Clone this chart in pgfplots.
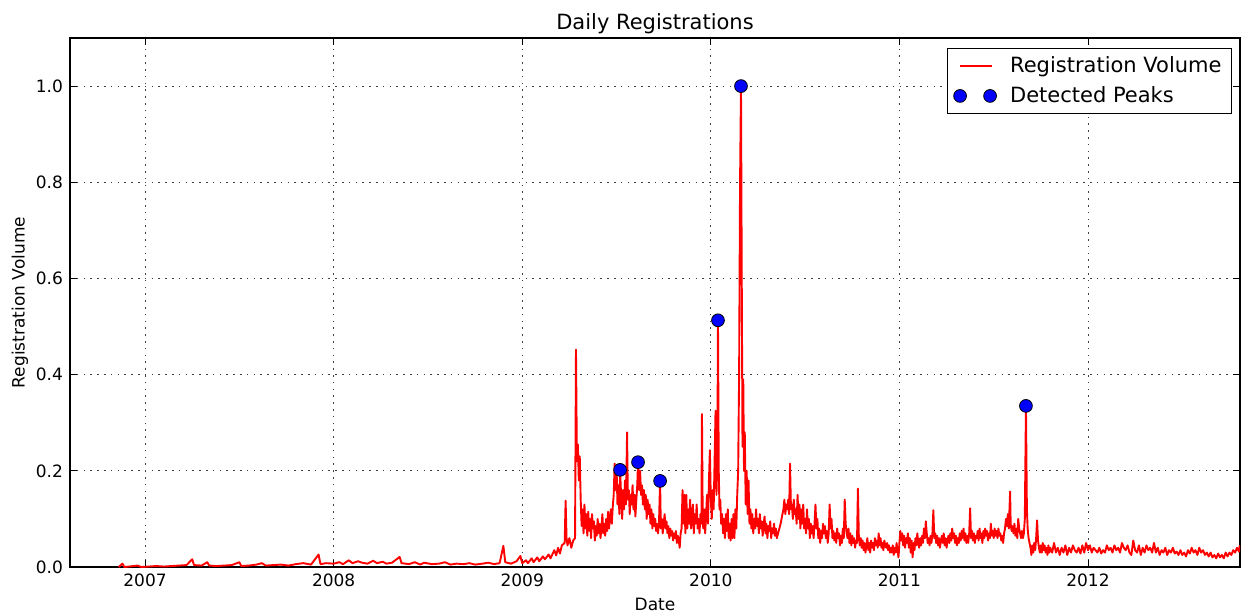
\documentclass[border=0pt]{standalone}
\usepackage{fontspec}
\setmainfont{DejaVu Sans}
\usepackage{pgfplots}
\pgfplotsset{compat=1.18}
\begin{document}
\begin{tikzpicture}
\begin{axis}[
  scale only axis,
  width=585pt, height=264.5pt,
  xmin=2006.602, xmax=2012.806,
  ymin=0, ymax=1.1,
  xtick={2007,2008,2009,2010,2011,2012},
  ytick={0,0.2,0.4,0.6,0.8,1.0},
  xticklabel style={/pgf/number format/1000 sep={}},
  yticklabel style={/pgf/number format/fixed,/pgf/number format/fixed zerofill,/pgf/number format/precision=1},
  /pgf/number format/assume math mode=true,
  tick label style={font=\fontsize{8.5}{10}\selectfont},
  label style={font=\fontsize{8.5}{10}\selectfont},
  title style={font=\fontsize{10.5}{12}\selectfont, at={(0.5,1)}, anchor=base, yshift=-1.5pt},
  title={Daily Registrations},
  xlabel={Date}, ylabel={Registration Volume},
  xlabel style={yshift=1.5pt},
  ylabel style={yshift=-3pt},
  tick align=inside,
  major tick length=3.5pt,
  tick style={black, line width=0.5pt},
  xmajorgrids, ymajorgrids,
  grid style={black!75, line width=0.5pt, dash pattern=on 0.8pt off 2.6pt},
  axis line style={line width=0.7pt},
  legend style={at={(1,1)}, anchor=north east, xshift=-4pt, yshift=-5pt, draw=black, line width=0.5pt,
    font=\fontsize{10.5}{12}\selectfont, cells={anchor=west}, inner xsep=3pt, inner ysep=2pt, row sep=1.5pt},
  legend cell align=left,
]
\addplot[red, line width=0.95pt, line join=round,
  legend image code/.code={\path[draw=none,fill=none] (-3.2pt,0pt) -- (23pt,0pt); \draw[red, line width=0.75pt] (0pt,0pt) -- (16pt,0pt);}]
coordinates {
(2006.86,0.000)(2006.88,0.007)(2006.89,0.000)(2006.94,0.002)(2006.96,0.003)(2006.98,0.000)
(2007.02,0.001)(2007.06,0.002)(2007.10,0.001)(2007.14,0.002)(2007.18,0.003)(2007.22,0.004)
(2007.25,0.016)(2007.26,0.004)(2007.30,0.003)(2007.33,0.010)(2007.34,0.003)(2007.38,0.002)
(2007.42,0.003)(2007.46,0.004)(2007.50,0.010)(2007.51,0.002)(2007.55,0.003)(2007.59,0.005)
(2007.62,0.008)(2007.64,0.003)(2007.68,0.004)(2007.72,0.005)(2007.76,0.003)(2007.80,0.006)
(2007.84,0.008)(2007.88,0.005)(2007.92,0.026)(2007.93,0.006)(2007.96,0.008)(2008.00,0.007)
(2008.03,0.010)(2008.05,0.006)(2008.08,0.014)(2008.10,0.008)(2008.13,0.012)(2008.15,0.009)
(2008.18,0.007)(2008.21,0.013)(2008.23,0.008)(2008.26,0.011)(2008.28,0.007)(2008.31,0.009)
(2008.35,0.021)(2008.36,0.008)(2008.40,0.006)(2008.43,0.010)(2008.46,0.005)(2008.48,0.009)
(2008.52,0.006)(2008.56,0.007)(2008.59,0.010)(2008.62,0.005)(2008.65,0.007)(2008.69,0.006)
(2008.72,0.008)(2008.75,0.005)(2008.79,0.007)(2008.82,0.009)(2008.85,0.006)(2008.88,0.008)
(2008.90,0.044)(2008.91,0.010)(2008.94,0.007)(2008.97,0.012)(2008.99,0.023)(2009.00,0.008)
(2009.02,0.014)(2009.03,0.008)(2009.05,0.018)(2009.06,0.010)(2009.08,0.020)(2009.09,0.012)
(2009.11,0.022)(2009.12,0.016)(2009.14,0.026)(2009.15,0.018)(2009.17,0.035)(2009.18,0.024)
(2009.19,0.040)(2009.20,0.028)(2009.21,0.045)(2009.225,0.050)(2009.23,0.138)(2009.235,0.060)
(2009.24,0.045)(2009.25,0.060)(2009.26,0.040)(2009.27,0.055)(2009.28,0.060)(2009.285,0.452)
(2009.29,0.220)(2009.295,0.255)(2009.30,0.180)(2009.305,0.230)(2009.31,0.140)(2009.315,0.085)
(2009.32,0.120)(2009.325,0.070)(2009.33,0.130)(2009.335,0.080)(2009.34,0.110)(2009.345,0.065)
(2009.35,0.115)(2009.355,0.075)(2009.36,0.100)(2009.365,0.060)(2009.37,0.110)(2009.375,0.080)
(2009.38,0.095)(2009.385,0.055)(2009.39,0.085)(2009.395,0.065)(2009.40,0.100)(2009.405,0.070)
(2009.41,0.090)(2009.415,0.060)(2009.42,0.080)(2009.425,0.110)(2009.43,0.070)(2009.435,0.090)
(2009.44,0.065)(2009.445,0.100)(2009.45,0.075)(2009.455,0.115)(2009.46,0.080)(2009.47,0.120)
(2009.475,0.090)(2009.48,0.125)(2009.485,0.150)(2009.49,0.215)(2009.495,0.160)(2009.50,0.210)
(2009.505,0.130)(2009.51,0.170)(2009.515,0.110)(2009.519,0.202)(2009.525,0.140)(2009.53,0.100)
(2009.535,0.160)(2009.54,0.120)(2009.545,0.180)(2009.55,0.130)(2009.556,0.280)(2009.56,0.140)
(2009.565,0.160)(2009.57,0.110)(2009.575,0.150)(2009.58,0.130)(2009.585,0.170)(2009.59,0.120)
(2009.595,0.150)(2009.60,0.105)(2009.605,0.140)(2009.61,0.170)(2009.614,0.218)(2009.62,0.160)
(2009.625,0.200)(2009.63,0.150)(2009.635,0.170)(2009.64,0.130)(2009.645,0.160)(2009.65,0.120)
(2009.655,0.150)(2009.66,0.100)(2009.665,0.140)(2009.67,0.110)(2009.675,0.130)(2009.68,0.090)
(2009.685,0.120)(2009.69,0.080)(2009.695,0.110)(2009.70,0.085)(2009.705,0.100)(2009.71,0.075)
(2009.715,0.090)(2009.72,0.070)(2009.725,0.090)(2009.731,0.179)(2009.735,0.080)(2009.74,0.100)
(2009.745,0.070)(2009.75,0.090)(2009.755,0.110)(2009.76,0.080)(2009.765,0.095)(2009.77,0.070)
(2009.775,0.085)(2009.78,0.060)(2009.785,0.080)(2009.79,0.065)(2009.795,0.075)(2009.80,0.055)
(2009.805,0.070)(2009.81,0.060)(2009.815,0.075)(2009.82,0.050)(2009.825,0.065)(2009.83,0.055)
(2009.835,0.040)(2009.84,0.070)(2009.845,0.080)(2009.85,0.160)(2009.855,0.090)(2009.86,0.150)
(2009.865,0.070)(2009.87,0.150)(2009.875,0.080)(2009.88,0.120)(2009.885,0.090)(2009.89,0.140)
(2009.895,0.080)(2009.90,0.100)(2009.905,0.130)(2009.91,0.070)(2009.915,0.110)(2009.92,0.090)
(2009.925,0.130)(2009.93,0.080)(2009.935,0.100)(2009.94,0.070)(2009.945,0.110)(2009.95,0.090)
(2009.953,0.318)(2009.957,0.100)(2009.96,0.080)(2009.965,0.120)(2009.97,0.070)(2009.975,0.110)
(2009.98,0.150)(2009.985,0.090)(2009.99,0.180)(2009.995,0.243)(2010.00,0.140)(2010.005,0.100)
(2010.01,0.160)(2010.015,0.120)(2010.02,0.220)(2010.025,0.325)(2010.03,0.150)(2010.035,0.250)
(2010.038,0.513)(2010.042,0.200)(2010.046,0.120)(2010.05,0.140)(2010.055,0.090)(2010.06,0.110)
(2010.065,0.070)(2010.07,0.100)(2010.075,0.060)(2010.08,0.110)(2010.085,0.075)(2010.09,0.120)
(2010.095,0.060)(2010.10,0.090)(2010.105,0.055)(2010.11,0.100)(2010.115,0.060)(2010.12,0.110)
(2010.125,0.060)(2010.13,0.120)(2010.135,0.080)(2010.14,0.150)(2010.145,0.200)(2010.15,0.400)
(2010.155,0.800)(2010.160,1.000)(2010.164,0.600)(2010.168,0.250)(2010.172,0.390)(2010.176,0.200)
(2010.18,0.280)(2010.185,0.130)(2010.19,0.200)(2010.195,0.110)(2010.20,0.180)(2010.205,0.090)
(2010.21,0.120)(2010.215,0.080)(2010.22,0.110)(2010.225,0.070)(2010.23,0.100)(2010.235,0.080)
(2010.24,0.120)(2010.245,0.085)(2010.25,0.100)(2010.255,0.070)(2010.26,0.110)(2010.265,0.080)
(2010.27,0.095)(2010.275,0.065)(2010.28,0.090)(2010.285,0.105)(2010.29,0.070)(2010.295,0.090)
(2010.30,0.060)(2010.305,0.085)(2010.31,0.075)(2010.315,0.095)(2010.32,0.060)(2010.325,0.080)
(2010.33,0.070)(2010.335,0.090)(2010.34,0.065)(2010.345,0.080)(2010.35,0.060)(2010.36,0.075)
(2010.37,0.090)(2010.38,0.110)(2010.385,0.120)(2010.39,0.140)(2010.395,0.110)(2010.40,0.130)
(2010.405,0.120)(2010.41,0.140)(2010.415,0.110)(2010.42,0.215)(2010.425,0.120)(2010.43,0.130)
(2010.435,0.100)(2010.44,0.140)(2010.445,0.110)(2010.45,0.120)(2010.455,0.090)(2010.46,0.150)
(2010.465,0.100)(2010.47,0.130)(2010.475,0.080)(2010.48,0.120)(2010.485,0.090)(2010.49,0.130)
(2010.495,0.080)(2010.50,0.100)(2010.505,0.070)(2010.51,0.120)(2010.515,0.080)(2010.52,0.100)
(2010.525,0.060)(2010.53,0.090)(2010.535,0.070)(2010.54,0.085)(2010.545,0.060)(2010.55,0.090)
(2010.555,0.130)(2010.56,0.080)(2010.565,0.100)(2010.57,0.060)(2010.575,0.080)(2010.58,0.050)
(2010.585,0.075)(2010.59,0.060)(2010.595,0.090)(2010.60,0.070)(2010.605,0.085)(2010.61,0.060)
(2010.615,0.075)(2010.62,0.050)(2010.625,0.070)(2010.63,0.130)(2010.635,0.080)(2010.64,0.100)
(2010.645,0.060)(2010.65,0.075)(2010.655,0.055)(2010.66,0.070)(2010.665,0.050)(2010.67,0.080)
(2010.675,0.060)(2010.68,0.070)(2010.685,0.045)(2010.69,0.065)(2010.695,0.050)(2010.70,0.080)
(2010.705,0.060)(2010.71,0.140)(2010.715,0.090)(2010.72,0.070)(2010.725,0.060)(2010.73,0.080)
(2010.735,0.050)(2010.74,0.070)(2010.745,0.045)(2010.75,0.065)(2010.755,0.050)(2010.76,0.060)
(2010.765,0.040)(2010.77,0.055)(2010.775,0.050)(2010.78,0.163)(2010.785,0.060)(2010.79,0.045)
(2010.795,0.060)(2010.80,0.040)(2010.805,0.055)(2010.81,0.035)(2010.815,0.050)(2010.82,0.030)
(2010.825,0.045)(2010.83,0.060)(2010.835,0.035)(2010.84,0.050)(2010.845,0.030)(2010.85,0.055)
(2010.855,0.040)(2010.86,0.050)(2010.865,0.035)(2010.87,0.060)(2010.875,0.045)(2010.88,0.055)
(2010.885,0.040)(2010.89,0.070)(2010.895,0.045)(2010.90,0.060)(2010.905,0.040)(2010.91,0.050)
(2010.915,0.035)(2010.92,0.055)(2010.925,0.045)(2010.93,0.040)(2010.935,0.050)(2010.94,0.035)
(2010.945,0.045)(2010.95,0.030)(2010.955,0.040)(2010.96,0.030)(2010.965,0.045)(2010.97,0.025)
(2010.975,0.040)(2010.98,0.030)(2010.985,0.050)(2010.99,0.035)(2010.995,0.020)(2011.00,0.050)
(2011.005,0.075)(2011.01,0.055)(2011.015,0.070)(2011.02,0.045)(2011.025,0.065)(2011.03,0.040)
(2011.035,0.060)(2011.04,0.050)(2011.045,0.070)(2011.05,0.040)(2011.055,0.060)(2011.06,0.030)
(2011.065,0.055)(2011.07,0.020)(2011.075,0.050)(2011.08,0.035)(2011.085,0.060)(2011.09,0.045)
(2011.095,0.070)(2011.10,0.050)(2011.105,0.040)(2011.11,0.060)(2011.115,0.045)(2011.12,0.065)
(2011.125,0.050)(2011.13,0.080)(2011.135,0.060)(2011.14,0.095)(2011.145,0.070)(2011.15,0.050)
(2011.155,0.060)(2011.16,0.045)(2011.165,0.065)(2011.17,0.050)(2011.175,0.070)(2011.18,0.118)
(2011.185,0.060)(2011.19,0.070)(2011.195,0.050)(2011.20,0.065)(2011.205,0.045)(2011.21,0.060)
(2011.215,0.040)(2011.22,0.055)(2011.225,0.065)(2011.23,0.050)(2011.235,0.070)(2011.24,0.045)
(2011.245,0.060)(2011.25,0.040)(2011.255,0.055)(2011.26,0.065)(2011.265,0.050)(2011.27,0.070)
(2011.275,0.055)(2011.28,0.080)(2011.285,0.060)(2011.29,0.070)(2011.295,0.050)(2011.30,0.065)
(2011.305,0.045)(2011.31,0.060)(2011.315,0.050)(2011.32,0.070)(2011.325,0.055)(2011.33,0.075)
(2011.335,0.060)(2011.34,0.080)(2011.345,0.055)(2011.35,0.070)(2011.355,0.050)(2011.36,0.065)
(2011.365,0.050)(2011.37,0.070)(2011.375,0.122)(2011.38,0.060)(2011.385,0.075)(2011.39,0.055)
(2011.395,0.070)(2011.40,0.050)(2011.405,0.065)(2011.41,0.060)(2011.415,0.075)(2011.42,0.055)
(2011.425,0.080)(2011.43,0.060)(2011.435,0.070)(2011.44,0.050)(2011.445,0.075)(2011.45,0.060)
(2011.455,0.080)(2011.46,0.065)(2011.465,0.075)(2011.47,0.055)(2011.475,0.070)(2011.48,0.060)
(2011.485,0.090)(2011.49,0.065)(2011.495,0.075)(2011.50,0.060)(2011.505,0.080)(2011.51,0.065)
(2011.515,0.075)(2011.52,0.060)(2011.525,0.080)(2011.53,0.065)(2011.535,0.070)(2011.54,0.055)
(2011.545,0.065)(2011.55,0.050)(2011.555,0.070)(2011.56,0.080)(2011.565,0.100)(2011.57,0.085)
(2011.575,0.110)(2011.58,0.080)(2011.587,0.157)(2011.59,0.090)(2011.595,0.075)(2011.60,0.085)
(2011.605,0.070)(2011.61,0.090)(2011.615,0.065)(2011.62,0.080)(2011.625,0.060)(2011.63,0.100)
(2011.635,0.080)(2011.64,0.070)(2011.645,0.060)(2011.65,0.075)(2011.655,0.060)(2011.66,0.070)
(2011.665,0.100)(2011.671,0.335)(2011.676,0.120)(2011.68,0.080)(2011.685,0.060)(2011.69,0.050)
(2011.695,0.040)(2011.70,0.025)(2011.705,0.045)(2011.71,0.030)(2011.715,0.050)(2011.72,0.035)
(2011.725,0.060)(2011.73,0.097)(2011.735,0.055)(2011.74,0.040)(2011.745,0.030)(2011.75,0.045)
(2011.755,0.030)(2011.76,0.050)(2011.765,0.035)(2011.77,0.045)(2011.775,0.030)(2011.78,0.040)
(2011.785,0.025)(2011.79,0.045)(2011.795,0.030)(2011.80,0.040)(2011.81,0.030)(2011.82,0.050)
(2011.83,0.030)(2011.84,0.040)(2011.85,0.025)(2011.86,0.040)(2011.87,0.030)(2011.88,0.045)
(2011.89,0.025)(2011.90,0.040)(2011.91,0.030)(2011.92,0.045)(2011.93,0.035)(2011.94,0.030)
(2011.95,0.040)(2011.96,0.028)(2011.97,0.045)(2011.98,0.030)(2011.99,0.050)(2012.00,0.035)
(2012.01,0.045)(2012.02,0.030)(2012.03,0.040)(2012.04,0.035)(2012.05,0.030)(2012.06,0.040)
(2012.07,0.028)(2012.08,0.035)(2012.09,0.030)(2012.10,0.045)(2012.11,0.035)(2012.12,0.040)
(2012.13,0.030)(2012.14,0.045)(2012.15,0.035)(2012.16,0.040)(2012.17,0.030)(2012.18,0.050)
(2012.19,0.040)(2012.20,0.035)(2012.21,0.045)(2012.22,0.030)(2012.23,0.025)(2012.24,0.055)
(2012.25,0.035)(2012.26,0.030)(2012.27,0.045)(2012.28,0.025)(2012.29,0.040)(2012.30,0.030)
(2012.31,0.045)(2012.32,0.035)(2012.33,0.040)(2012.34,0.030)(2012.35,0.050)(2012.36,0.030)
(2012.37,0.040)(2012.38,0.025)(2012.39,0.035)(2012.40,0.030)(2012.41,0.040)(2012.42,0.025)
(2012.43,0.035)(2012.44,0.030)(2012.45,0.040)(2012.46,0.028)(2012.47,0.032)(2012.48,0.025)
(2012.49,0.035)(2012.50,0.025)(2012.51,0.030)(2012.52,0.022)(2012.53,0.035)(2012.54,0.028)
(2012.55,0.040)(2012.56,0.030)(2012.57,0.035)(2012.58,0.025)(2012.59,0.040)(2012.60,0.030)
(2012.61,0.035)(2012.62,0.025)(2012.63,0.030)(2012.64,0.022)(2012.65,0.030)(2012.66,0.020)
(2012.67,0.025)(2012.68,0.018)(2012.69,0.028)(2012.70,0.020)(2012.71,0.025)(2012.72,0.018)
(2012.73,0.030)(2012.74,0.022)(2012.75,0.030)(2012.76,0.025)(2012.77,0.035)(2012.78,0.030)
(2012.79,0.040)(2012.80,0.032)(2012.805,0.045)
};
\addlegendentry{Registration Volume}
\addplot[only marks, mark=*, mark size=3.2pt, mark options={fill=blue, draw=black, line width=0.4pt},
  legend image code/.code={\path[draw=none,fill=none] (-3.2pt,0pt) -- (23pt,0pt); \filldraw[fill=blue, draw=black, line width=0.4pt] (0pt,0pt) circle (3.2pt); \filldraw[fill=blue, draw=black, line width=0.4pt] (15pt,0pt) circle (3.2pt);}]
coordinates {
(2009.519,0.202)(2009.614,0.218)(2009.731,0.179)(2010.038,0.513)(2010.160,1.000)(2011.671,0.335)
};
\addlegendentry{Detected Peaks}
\end{axis}
\pgfresetboundingbox
\path[use as bounding box] ([xshift=-35pt,yshift=-22.5pt]current axis.south west) rectangle ([xshift=0.5pt,yshift=19pt]current axis.north east);
\end{tikzpicture}
\end{document}
